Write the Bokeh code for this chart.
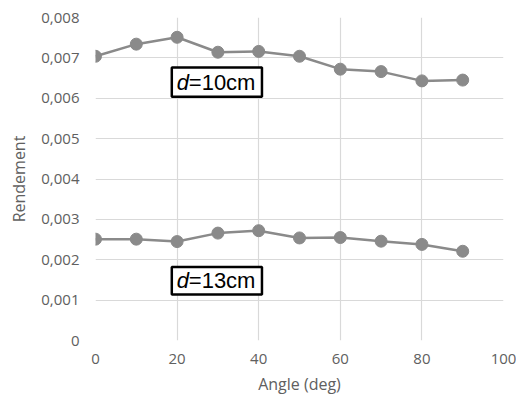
from bokeh.plotting import figure
from bokeh.models import FixedTicker, Label, BoxAnnotation, Range1d
from bokeh.embed import file_html
from bokeh.resources import INLINE

angles = [0, 10, 20, 30, 40, 50, 60, 70, 80, 90]
rend_d10 = [0.00704, 0.00734, 0.00751, 0.00714, 0.00716, 0.00704, 0.00672, 0.00666, 0.00643, 0.00645]
rend_d13 = [0.00251, 0.00251, 0.00245, 0.00266, 0.00272, 0.00254, 0.00255, 0.00246, 0.00238, 0.00221]

x_ticks = [0, 20, 40, 60, 80, 100]
y_ticks = [0, 0.001, 0.002, 0.003, 0.004, 0.005, 0.006, 0.007, 0.008]
y_tick_labels = ["0", "0,001", "0,002", "0,003", "0,004", "0,005", "0,006", "0,007", "0,008"]

series_names = ["10cm", "13cm"]

GRAY_TXT = "#606060"
LINE_C = "#8a8a8a"
FONT = "Open Sans"

p = figure(width=516, height=397, output_backend="svg", toolbar_location=None,
           x_range=Range1d(0, 100), y_range=Range1d(0, 0.008),
           min_border_left=95, min_border_right=13, min_border_top=17, min_border_bottom=56)
p.outline_line_color = None
p.background_fill_color = "white"

for ax in (p.xaxis[0], p.yaxis[0]):
    ax.axis_line_color = None
    ax.major_tick_line_color = None
    ax.minor_tick_line_color = None
    ax.major_tick_out = 0
    ax.major_tick_in = 0
    ax.major_label_text_font = FONT
    ax.major_label_text_font_size = "15px"
    ax.major_label_text_color = GRAY_TXT
    ax.axis_label_text_font = FONT
    ax.axis_label_text_font_size = "16px"
    ax.axis_label_text_font_style = "normal"
    ax.axis_label_text_color = GRAY_TXT

p.xaxis.ticker = FixedTicker(ticks=x_ticks)
p.yaxis.ticker = FixedTicker(ticks=y_ticks)
p.yaxis.major_label_overrides = {t: l for t, l in zip(y_ticks, y_tick_labels)}
p.xaxis.axis_label = "Angle (deg)"
p.yaxis.axis_label = "Rendement"
p.xaxis.major_label_standoff = 13
p.yaxis.major_label_standoff = 16
p.xaxis.axis_label_standoff = 6
p.yaxis.axis_label_standoff = 8

p.xgrid.grid_line_color = "#d9d9d9"
p.ygrid.grid_line_color = "#d9d9d9"
p.xgrid.grid_line_width = 1.2
p.ygrid.grid_line_width = 1.2

for ys in (rend_d10, rend_d13):
    p.line(angles, ys, line_color=LINE_C, line_width=2.5)
    p.scatter(angles, ys, size=12, fill_color=LINE_C, line_color=LINE_C)

# label boxes
box_specs = [(18.7, 40.8, 0.00604, 0.00676), (18.7, 40.8, 0.00114, 0.00182)]
for (l, r, b, t), name in zip(box_specs, series_names):
    p.add_layout(BoxAnnotation(left=l, right=r, bottom=b, top=t, fill_color="white",
                               fill_alpha=1, line_color="black", line_alpha=1, line_width=2.5))
    yc = (b + t) / 2
    p.add_layout(Label(x=l, y=yc, x_offset=5, text="d", text_font="Liberation Sans",
                       text_font_style="italic", text_font_size="22px", text_color="black",
                       text_baseline="middle", text_align="left"))
    p.add_layout(Label(x=l, y=yc, x_offset=17, text="=" + name, text_font="Liberation Sans",
                       text_font_size="22px", text_color="black",
                       text_baseline="middle", text_align="left"))

open("out.html", "w").write(file_html(p, INLINE))
